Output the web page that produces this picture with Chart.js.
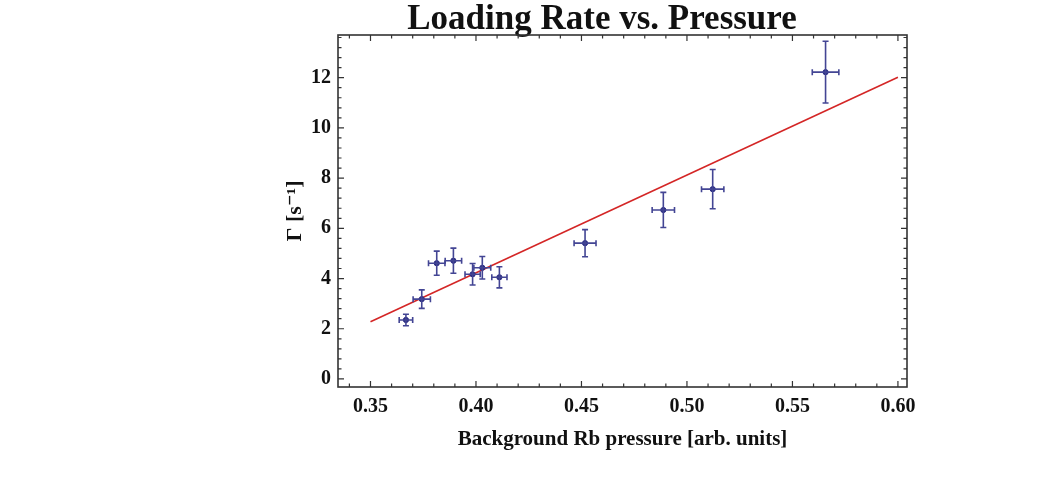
<!DOCTYPE html>
<html>
<head>
<meta charset="utf-8">
<script src="https://cdn.jsdelivr.net/npm/chart.js@4.4.0/dist/chart.umd.min.js"></script>
<style>
  html, body { margin: 0; padding: 0; background: #fff; }
  #wrap { position: relative; width: 1046px; height: 479px; }
</style>
</head>
<body>
<div id="wrap"><canvas id="c" width="1046" height="479"></canvas></div>
<script>
// ---- data ----
const pressure = [0.3668, 0.3743, 0.3814, 0.3893, 0.3984, 0.4030, 0.4111, 0.4517, 0.4888, 0.5122, 0.5657];
const rate     = [2.35, 3.18, 4.61, 4.71, 4.17, 4.43, 4.05, 5.41, 6.73, 7.56, 12.22];
const rateErr  = [0.23, 0.37, 0.48, 0.50, 0.43, 0.45, 0.42, 0.54, 0.70, 0.78, 1.23];
const pressErr = [0.0032, 0.0041, 0.0039, 0.0039, 0.0036, 0.0040, 0.0036, 0.0052, 0.0053, 0.0053, 0.0063];
const fitX = [0.35, 0.60];
const fitY = [2.28, 12.02];
const xTicks = [0.35, 0.40, 0.45, 0.50, 0.55, 0.60];
const yTicks = [0, 2, 4, 6, 8, 10, 12];
const xMinorStep = 0.01;
const yMinorStep = 0.4;

const SERIF = '"Liberation Serif", "DejaVu Serif", serif';

const points = pressure.map((x, i) => ({ x: x, y: rate[i] }));
const fitLine = fitX.map((x, i) => ({ x: x, y: fitY[i] }));

const errorBars = {
  id: 'errorBars',
  afterDatasetsDraw(chart) {
    const { ctx, scales: { x, y } } = chart;
    ctx.save();
    ctx.strokeStyle = '#434594';
    ctx.lineWidth = 1.6;
    const cap = 3;
    pressure.forEach((px, i) => {
      const cx = x.getPixelForValue(px);
      const cy = y.getPixelForValue(rate[i]);
      const y0 = y.getPixelForValue(rate[i] - rateErr[i]);
      const y1 = y.getPixelForValue(rate[i] + rateErr[i]);
      const x0 = x.getPixelForValue(px - pressErr[i]);
      const x1 = x.getPixelForValue(px + pressErr[i]);
      ctx.beginPath();
      ctx.moveTo(cx, y0); ctx.lineTo(cx, y1);
      ctx.moveTo(cx - cap, y0); ctx.lineTo(cx + cap, y0);
      ctx.moveTo(cx - cap, y1); ctx.lineTo(cx + cap, y1);
      ctx.moveTo(x0, cy); ctx.lineTo(x1, cy);
      ctx.moveTo(x0, cy - cap); ctx.lineTo(x0, cy + cap);
      ctx.moveTo(x1, cy - cap); ctx.lineTo(x1, cy + cap);
      ctx.stroke();
    });
    ctx.restore();
  }
};

const frame = {
  id: 'frame',
  afterDraw(chart) {
    const { ctx, chartArea: a, scales: { x, y } } = chart;
    ctx.save();
    ctx.strokeStyle = '#333';
    ctx.lineWidth = 1.2;
    const major = 6, minor = 3.5;
    ctx.beginPath();
    const startX = Math.ceil(x.min / xMinorStep - 1e-6);
    for (let k = startX; k * xMinorStep <= x.max + 1e-9; k++) {
      const v = k * xMinorStep;
      const isMajor = xTicks.some(t => Math.abs(t - v) < 1e-6);
      const L = isMajor ? major : minor;
      const p = x.getPixelForValue(v);
      ctx.moveTo(p, a.bottom); ctx.lineTo(p, a.bottom - L);
      ctx.moveTo(p, a.top); ctx.lineTo(p, a.top + L);
    }
    const startY = Math.ceil(y.min / yMinorStep - 1e-6);
    for (let k = startY; k * yMinorStep <= y.max + 1e-9; k++) {
      const v = k * yMinorStep;
      const isMajor = yTicks.some(t => Math.abs(t - v) < 1e-6);
      const L = isMajor ? major : minor;
      const p = y.getPixelForValue(v);
      ctx.moveTo(a.left, p); ctx.lineTo(a.left + L, p);
      ctx.moveTo(a.right, p); ctx.lineTo(a.right - L, p);
    }
    ctx.stroke();
    ctx.lineWidth = 1.6;
    ctx.strokeRect(a.left, a.top, a.right - a.left, a.bottom - a.top);
    ctx.restore();
  }
};

new Chart(document.getElementById('c'), {
  type: 'scatter',
  data: {
    datasets: [
      {
        type: 'line',
        data: fitLine,
        borderColor: '#d42626',
        borderWidth: 1.6,
        pointRadius: 0,
        fill: false,
        order: 2
      },
      {
        data: points,
        backgroundColor: '#2b2c82',
        borderColor: '#2b2c82',
        pointRadius: 2.6,
        pointHoverRadius: 2.6,
        order: 1
      }
    ]
  },
  options: {
    responsive: false,
    animation: false,
    events: [],
    layout: { padding: { left: 297, right: 139, top: 0, bottom: 0 } },
    plugins: {
      legend: { display: false },
      tooltip: { enabled: false },
      title: {
        display: true,
        text: 'Loading Rate vs. Pressure',
        color: '#111',
        font: { family: SERIF, size: 35, weight: 'bold', lineHeight: 0.8 },
        padding: { top: 6, bottom: 1 }
      }
    },
    scales: {
      x: {
        type: 'linear',
        min: 0.3346,
        max: 0.6043,
        afterBuildTicks(s) { s.ticks = xTicks.map(v => ({ value: v })); },
        afterFit(s) { s.height = 92; },
        grid: { display: false, drawTicks: false },
        border: { display: false },
        ticks: {
          padding: 8,
          color: '#111',
          font: { family: SERIF, size: 20, weight: 'bold' },
          callback: v => Number(v).toFixed(2)
        },
        title: {
          display: true,
          text: 'Background Rb pressure [arb. units]',
          color: '#111',
          font: { family: SERIF, size: 21, weight: 'bold', lineHeight: 1.2 },
          padding: { top: 0, bottom: 27 }
        }
      },
      y: {
        type: 'linear',
        min: -0.32,
        max: 13.7,
        afterBuildTicks(s) { s.ticks = yTicks.map(v => ({ value: v })); },
        afterFit(s) { s.width = 41; },
        grid: { display: false, drawTicks: false },
        border: { display: false },
        ticks: {
          padding: 7,
          color: '#111',
          font: { family: SERIF, size: 20, weight: 'bold' }
        },
        title: {
          display: true,
          text: 'Γ [s⁻¹]',
          color: '#111',
          font: { family: SERIF, size: 22, weight: 'bold', lineHeight: 1.2 },
          padding: { top: -15, bottom: 0 }
        }
      }
    }
  },
  plugins: [errorBars, frame]
});
</script>
</body>
</html>
